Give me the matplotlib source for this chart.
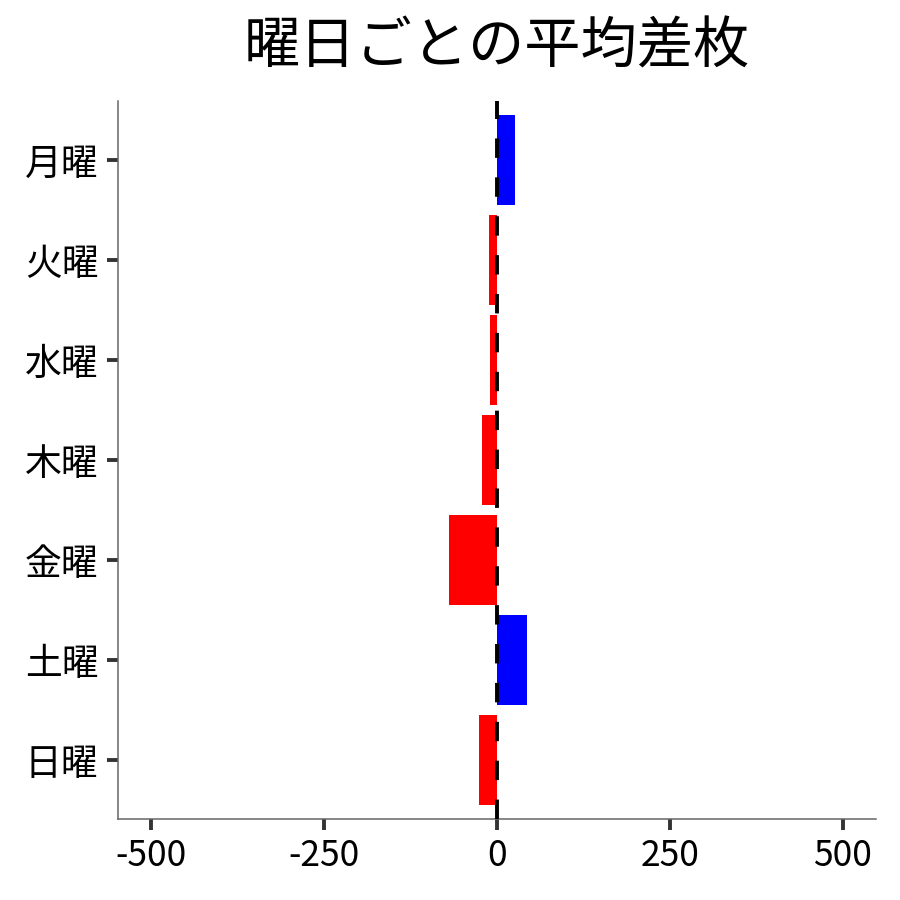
import matplotlib
matplotlib.use("Agg")
import matplotlib.pyplot as plt

plt.rcParams['font.family'] = ['Noto Sans CJK JP', 'DejaVu Sans']

days = ["月曜", "火曜", "水曜", "木曜", "金曜", "土曜", "日曜"]
values = [26, -11, -10, -21, -69, 44, -26]
xticks = [-500, -250, 0, 250, 500]
xticklabels = ["-500", "-250", "0", "250", "500"]
title = "曜日ごとの平均差枚"

colors = ["blue" if v > 0 else "red" for v in values]

fig = plt.figure(figsize=(9, 9), dpi=100)
ax = fig.add_axes([0.131, 0.09, 0.842, 0.798])

pos = list(range(len(days)))
ax.barh(pos, values, height=0.9, color=colors, zorder=2)
ax.axvline(0, color="black", linewidth=2.8, linestyle=(0, (5, 5)), zorder=3)

ax.set_yticks(pos)
ax.set_yticklabels(days)
ax.set_ylim(6.59, -0.59)
ax.set_xlim(-548, 548)
ax.set_xticks(xticks)
ax.set_xticklabels(xticklabels)

for s in ["top", "right"]:
    ax.spines[s].set_visible(False)
for s in ["left", "bottom"]:
    ax.spines[s].set_color("#666666")
    ax.spines[s].set_linewidth(1.1)

ax.tick_params(axis="both", colors="#333333", labelcolor="black", length=8, width=2.8, pad=6)
ax.tick_params(axis="y", labelsize=26.5)
ax.tick_params(axis="x", labelsize=25.5)

ax.set_title(title, fontsize=40.5, pad=27)

fig.savefig("out.png", dpi=100)
